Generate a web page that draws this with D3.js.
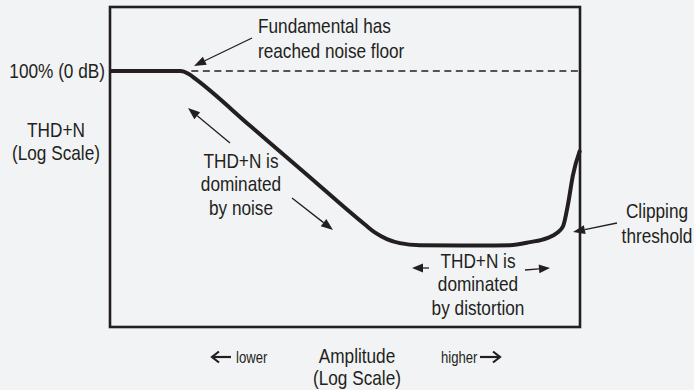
<!DOCTYPE html>
<html>
<head>
<meta charset="utf-8">
<script src="https://cdn.jsdelivr.net/npm/d3@7"></script>
<style>
  html, body { margin: 0; padding: 0; background: #f2f3f5; }
  svg { display: block; }
  text { font-family: "Liberation Sans", Arial, Helvetica, sans-serif; fill: #231f20; }
</style>
</head>
<body>
<svg id="chart" width="694" height="390"></svg>
<script>
// Signal amplitude (dBFS) and the resulting THD+N (dB re. fundamental)
const amplitudeDb = [-120, -102, -100, -98, -84, -70, -55, -52.3, -49.3, -46, -40.9, -25.5, -17.9, -12.8, -8.4, -5.9, -4.3, -3.1, -1.8, 0];
const thdnDb      = [0, 0, -0.8, -2.5, -16.5, -30.5, -45.5, -48, -49.9, -51.1, -51.7, -51.8, -51.7, -50.8, -49.6, -48.1, -46, -39.8, -30.9, -23.5];

// Reference level (fundamental at noise floor) and its label
const referenceDb = [0];
const referenceLabels = ["100% (0 dB)"];
const referenceStartDb = -100;

// Axis titles
const yTitle = ["THD+N", "(Log Scale)"];
const xTitle = ["Amplitude", "(Log Scale)"];

const svg = d3.select("#chart");
const ink = "#231f20";
const narrow = 0.82;   // condensed lettering

const plot = { left: 110, top: 7, right: 580, bottom: 327 };

const x = d3.scaleLinear().domain([-120, 0]).range([plot.left, plot.right]);
const y = d3.scaleLinear().domain([19, -76]).range([plot.top, plot.bottom]);

// Reference dashed line at 0 dB
svg.append("line")
  .attr("x1", x(referenceStartDb) + 3).attr("x2", x(0))
  .attr("y1", y(referenceDb[0])).attr("y2", y(referenceDb[0]))
  .attr("stroke", ink).attr("stroke-width", 1.3)
  .attr("stroke-dasharray", "7,4.5");

// THD+N curve
const pts = amplitudeDb.map((a, i) => [a, thdnDb[i]]);
const line = d3.line()
  .x(d => x(d[0])).y(d => y(d[1]))
  .curve(d3.curveMonotoneX);
svg.append("path")
  .datum(pts)
  .attr("d", line)
  .attr("fill", "none")
  .attr("stroke", ink)
  .attr("stroke-width", 4)
  .attr("stroke-linejoin", "round")
  .attr("stroke-linecap", "butt");

// Plot frame
svg.append("rect")
  .attr("x", plot.left).attr("y", plot.top)
  .attr("width", plot.right - plot.left).attr("height", plot.bottom - plot.top)
  .attr("fill", "none").attr("stroke", ink).attr("stroke-width", 2.6);

// Y axis: only the 0 dB reference is labelled
const yAxis = d3.axisLeft(y)
  .tickValues(referenceDb)
  .tickFormat((d, i) => referenceLabels[i])
  .tickSize(0).tickPadding(0);
const yg = svg.append("g")
  .attr("transform", `translate(${plot.left - 5},0)`)
  .call(yAxis);
yg.select(".domain").remove();
yg.selectAll(".tick text")
  .attr("x", 0)
  .attr("font-size", 21)
  .attr("fill", ink)
  .attr("transform", `scale(${narrow},1)`)
  .style("font-family", '"Liberation Sans", Arial, Helvetica, sans-serif');

// Multi-line condensed text block
function textBlock(lines, cx, y0, dy, anchor, size) {
  const g = svg.append("g").attr("transform", `translate(${cx},${y0}) scale(${narrow},1)`);
  const t = g.append("text")
    .attr("text-anchor", anchor)
    .attr("font-size", size);
  lines.forEach((s, i) => {
    t.append("tspan").attr("x", 0).attr("y", i * dy).text(s);
  });
  return t;
}

// Filled-head arrow
function arrow(x1, y1, x2, y2, opts = {}) {
  const len = opts.head || 12, half = opts.half || 4.5, w = opts.width || 1.3;
  const ang = Math.atan2(y2 - y1, x2 - x1);
  const bx = x2 - len * Math.cos(ang), by = y2 - len * Math.sin(ang);
  svg.append("line")
    .attr("x1", x1).attr("y1", y1).attr("x2", bx).attr("y2", by)
    .attr("stroke", ink).attr("stroke-width", w);
  const px = -Math.sin(ang) * half, py = Math.cos(ang) * half;
  svg.append("path")
    .attr("d", `M${x2},${y2}L${bx + px},${by + py}L${bx - px},${by - py}Z`)
    .attr("fill", ink);
}

// Open chevron arrow (axis direction hints)
function chevron(x1, x2, yy) {
  const dir = Math.sign(x2 - x1);
  svg.append("line")
    .attr("x1", x1).attr("y1", yy).attr("x2", x2 - dir * 1).attr("y2", yy)
    .attr("stroke", ink).attr("stroke-width", 2.2);
  svg.append("path")
    .attr("d", `M${x2 - dir * 7},${yy - 5.5}L${x2},${yy}L${x2 - dir * 7},${yy + 5.5}`)
    .attr("fill", "none").attr("stroke", ink).attr("stroke-width", 2.2)
    .attr("stroke-linejoin", "miter");
}

// Left axis title
textBlock(yTitle, 56, 137, 23, "middle", 21);

// Bottom axis title and direction hints
textBlock(xTitle, 357, 363, 22, "middle", 21);
chevron(231, 212, 357);
textBlock(["lower"], 236, 363, 0, "start", 16);
textBlock(["higher"], 441, 363, 0, "start", 16);
chevron(480, 500, 357);

// Annotations
textBlock(["Fundamental has", "reached noise floor"], 258, 33, 25, "start", 21);
arrow(252, 38, 194, 66);

textBlock(["THD+N is", "dominated", "by noise"], 241, 168, 23.5, "middle", 21);
arrow(230, 143, 188, 108);
arrow(292, 198, 333, 230);

textBlock(["THD+N is", "dominated", "by distortion"], 478, 268, 23.5, "middle", 21);
arrow(429, 268, 412, 268, { head: 11 });
arrow(525, 270, 550, 268, { head: 11 });

textBlock(["Clipping", "threshold"], 657, 218, 25, "middle", 21);
arrow(617, 223, 573, 232);
</script>
</body>
</html>
